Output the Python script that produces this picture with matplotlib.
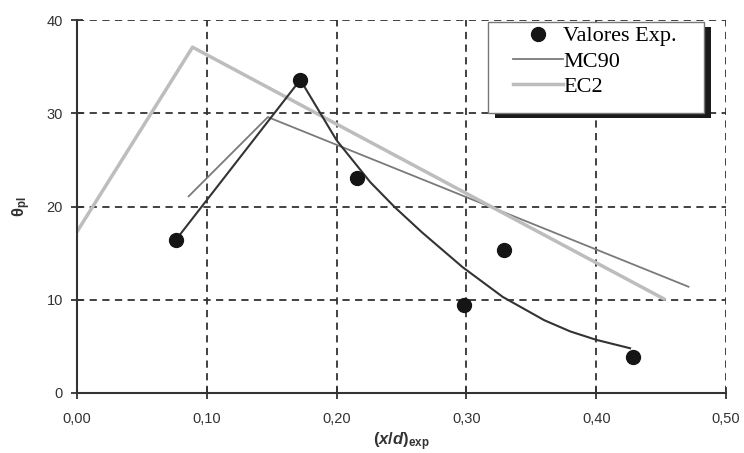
import matplotlib
matplotlib.use("Agg")
import matplotlib.pyplot as plt
from matplotlib.patches import Rectangle
from matplotlib.ticker import FuncFormatter

# experimental points
x_exp = [0.076, 0.172, 0.216, 0.298, 0.329, 0.428]
y_exp = [16.4, 33.6, 23.1, 9.4, 15.3, 3.9]

# trend line through the points
x_fit = [0.076, 0.172, 0.20, 0.226, 0.245, 0.266, 0.297, 0.328, 0.36, 0.38, 0.40, 0.426]
y_fit = [16.4, 33.6, 27.1, 22.6, 19.9, 17.2, 13.5, 10.3, 7.8, 6.6, 5.7, 4.8]

# code predictions
x_mc90 = [0.086, 0.147, 0.471]
y_mc90 = [21.1, 29.6, 11.4]
x_ec2 = [0.0, 0.089, 0.452]
y_ec2 = [17.3, 37.1, 10.1]

xticks = [0.0, 0.1, 0.2, 0.3, 0.4, 0.5]
yticks = [0, 10, 20, 30, 40]

plt.rcParams['font.family'] = ['Liberation Sans', 'DejaVu Sans']
plt.rcParams['mathtext.fontset'] = 'custom'
plt.rcParams['mathtext.it'] = 'Liberation Sans:italic:bold'
plt.rcParams['mathtext.bf'] = 'Liberation Sans:bold'
plt.rcParams['mathtext.rm'] = 'Liberation Sans:bold'

fig = plt.figure(figsize=(7.44, 4.53), dpi=100)
ax = fig.add_axes([0.1035, 0.1325, 0.8725, 0.823])

ax.plot(x_fit, y_fit, color='#333333', lw=1.5, zorder=3)
ax.plot(x_exp, y_exp, 'o', color='#151515', ms=10, zorder=4, label='Valores Exp.')
ax.plot(x_mc90, y_mc90, color='#7a7a7a', lw=1.3, zorder=2, label='MC90')
ax.plot(x_ec2, y_ec2, color='#bdbdbd', lw=2.5, zorder=2, label='EC2')

ax.set_xlim(0, 0.5)
ax.set_ylim(0, 40)
ax.set_xticks(xticks)
ax.set_yticks(yticks)
ax.xaxis.set_major_formatter(FuncFormatter(lambda v, p: f"{v:.2f}".replace('.', ',')))
ax.grid(True, ls=(0, (4, 3)), color='#333333', lw=1.3)
ax.set_axisbelow(True)
for s in ['top', 'right']:
    ax.spines[s].set_visible(False)
for s in ['left', 'bottom']:
    ax.spines[s].set_color('#333333')
    ax.spines[s].set_linewidth(1.5)
ax.tick_params(direction='inout', length=8, width=1.3, color='#333333',
               labelsize=10.5, labelcolor='#333333', pad=6)
ax.tick_params(axis='x', pad=10)

ax.set_xlabel(r'$\mathbf{(}x/d\mathbf{)}_{\mathbf{exp}}$', fontsize=12, color='#333333', labelpad=3)
ax.set_ylabel(r'$\mathbf{\theta}_{\mathbf{pl}}$', fontsize=12, color='#333333', labelpad=10)

# legend box with a black shadow, drawn by hand
box_x0, box_x1 = 0.633, 0.966
box_y0, box_y1 = 0.751, 0.995
shadow = Rectangle((box_x0 + 0.011, box_y0 - 0.014), box_x1 - box_x0, box_y1 - box_y0,
                   transform=ax.transAxes, facecolor='#1a1a1a', edgecolor='none',
                   zorder=5, clip_on=False)
frame = Rectangle((box_x0, box_y0), box_x1 - box_x0, box_y1 - box_y0,
                  transform=ax.transAxes, facecolor='white', edgecolor='#777777',
                  lw=1.0, zorder=5.5, clip_on=False)
ax.add_patch(shadow)
ax.add_patch(frame)

leg = ax.legend(loc='upper left', bbox_to_anchor=(0.672, 0.985), borderaxespad=0,
                frameon=False, prop={'family': 'Liberation Serif', 'size': 16},
                handlelength=2.25, handletextpad=0.0, labelspacing=0.22,
                borderpad=0)
leg.set_zorder(6)

fig.savefig('out.png', dpi=100)
